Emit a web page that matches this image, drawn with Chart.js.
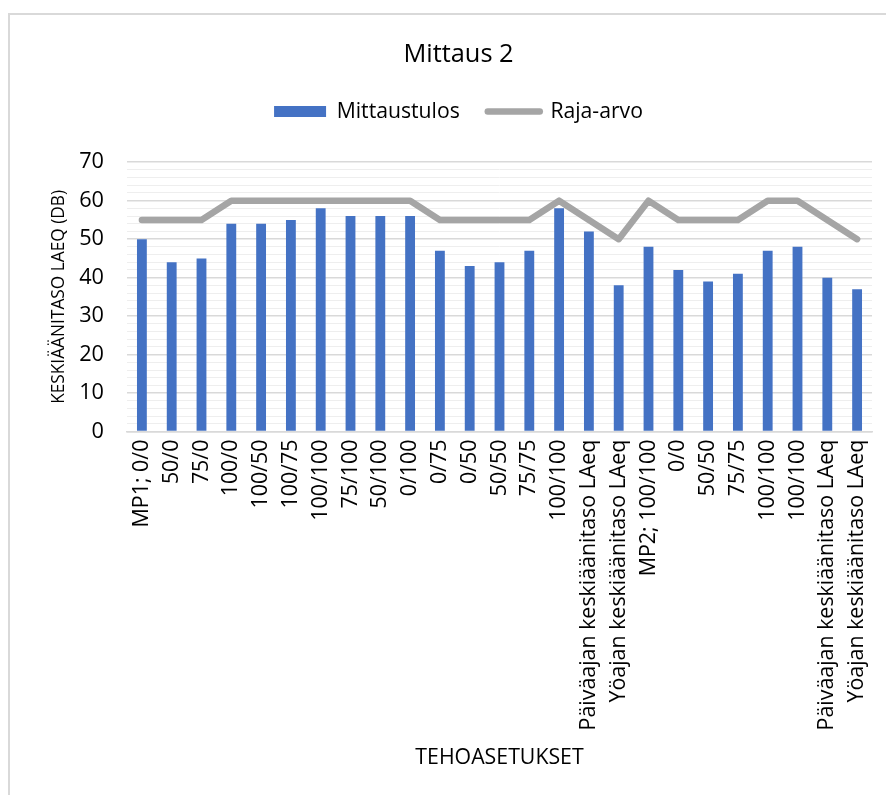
<!DOCTYPE html>
<html>
<head>
<meta charset="utf-8">
<script src="https://cdn.jsdelivr.net/npm/chart.js@4/dist/chart.umd.min.js"></script>
<style>
  html, body { margin: 0; padding: 0; background: #fff; }
  #frame {
    position: absolute; left: 8px; top: 13px; width: 900px; height: 800px;
    border-top: 2px solid #d9d9d9; border-left: 2px solid #d9d9d9;
  }
  #wrap { position: absolute; left: 0; top: 0; width: 886px; height: 795px; }
</style>
</head>
<body>
<div id="frame"></div>
<div id="wrap"><canvas id="c" width="886" height="795"></canvas></div>
<script>
// Settings tested (power levels), grouped by measuring point
const categories = [
  'MP1; 0/0', '50/0', '75/0', '100/0', '100/50', '100/75', '100/100',
  '75/100', '50/100', '0/100', '0/75', '0/50', '50/50', '75/75', '100/100',
  'Päiväajan keskiäänitaso LAeq', 'Yöajan keskiäänitaso LAeq',
  'MP2; 100/100', '0/0', '50/50', '75/75', '100/100', '100/100',
  'Päiväajan keskiäänitaso LAeq', 'Yöajan keskiäänitaso LAeq'
];

// Measured level, dB
const mittaustulos = [50, 44, 45, 54, 54, 55, 58, 56, 56, 56, 47, 43, 44, 47, 58,
                      52, 38, 48, 42, 39, 41, 47, 48, 40, 37];

// Limit value, dB
const rajaArvo = [55, 55, 55, 60, 60, 60, 60, 60, 60, 60, 55, 55, 55, 55, 60,
                  55, 50, 60, 55, 55, 55, 60, 60, 55, 50];

const FONT = '"Open Sans", Lato, sans-serif';
const BLUE = '#4472c4';
const GREY = '#a5a5a5';

// Extra room between the legend row and the plot
const legendGap = {
  id: 'legendGap',
  afterInit(chart) {
    const lg = chart.legend;
    if (!lg) return;
    const fit = lg.fit;
    lg.fit = function () { fit.call(this); this.height += 30; };
  }
};

new Chart(document.getElementById('c'), {
  data: {
    labels: categories,
    datasets: [
      {
        type: 'line',
        label: 'Raja-arvo',
        data: rajaArvo,
        borderColor: GREY,
        backgroundColor: GREY,
        borderWidth: 6.5,
        pointRadius: 0,
        tension: 0,
        borderJoinStyle: 'round',
        borderCapStyle: 'round',
        order: 0
      },
      {
        type: 'bar',
        label: 'Mittaustulos',
        data: mittaustulos,
        backgroundColor: BLUE,
        categoryPercentage: 1,
        barPercentage: 0.33,
        order: 1
      }
    ]
  },
  plugins: [legendGap],
  options: {
    responsive: false,
    animation: false,
    layout: { padding: { left: 45, right: 14, top: 0, bottom: 20 } },
    plugins: {
      title: {
        display: true,
        text: 'Mittaus 2',
        color: '#000',
        font: { family: FONT, size: 25.4, weight: 'normal' },
        padding: { top: 39.5, bottom: 3 }
      },
      legend: {
        position: 'top',
        reverse: true,
        labels: {
          color: '#000',
          font: { family: FONT, size: 21.2 },
          usePointStyle: true,
          pointStyleWidth: 52,
          boxHeight: 11,
          padding: 28,
          generateLabels: (chart) => chart.data.datasets.map((ds, i) => ds.type === 'bar'
            ? { text: ds.label, datasetIndex: i, pointStyle: 'rect', fillStyle: BLUE, strokeStyle: BLUE, lineWidth: 0, fontColor: '#000' }
            : { text: ds.label, datasetIndex: i, pointStyle: 'line', fillStyle: GREY, strokeStyle: GREY, lineWidth: 6.5, lineCap: 'round', fontColor: '#000' })
        }
      },
      tooltip: { enabled: false }
    },
    scales: {
      x: {
        grid: { display: false, drawTicks: false },
        border: { color: '#d9d9d9', width: 1.5 },
        afterFit: (scale) => { scale.paddingRight = 0; scale.paddingLeft = 0; },
        ticks: {
          color: '#000',
          font: { family: FONT, size: 21.4 },
          maxRotation: 90, minRotation: 90,
          autoSkip: false,
          padding: 8
        },
        title: {
          display: true,
          text: 'TEHOASETUKSET',
          color: '#000',
          font: { family: FONT, size: 21.3 },
          padding: { top: 7, bottom: 4 }
        }
      },
      y: {
        min: 0, max: 70,
        border: { display: false },
        afterFit: (scale) => { scale.width = 82; },
        grid: {
          color: (ctx) => (ctx.tick && ctx.tick.value % 10 === 0) ? '#d9d9d9' : '#eeeeee',
          lineWidth: (ctx) => (ctx.tick && ctx.tick.value % 10 === 0) ? 1.5 : 1,
          drawTicks: false
        },
        ticks: {
          stepSize: 2,
          autoSkip: false,
          color: '#000',
          font: { family: FONT, size: 21.7 },
          padding: 23,
          callback: (v) => (v % 10 === 0 ? v : '')
        },
        title: {
          display: true,
          text: 'KESKIÄÄNITASO LAEQ (DB)',
          color: '#000',
          font: { family: FONT, size: 17.3 },
          padding: { top: 4, bottom: 8 }
        }
      }
    }
  }
});
</script>
</body>
</html>
